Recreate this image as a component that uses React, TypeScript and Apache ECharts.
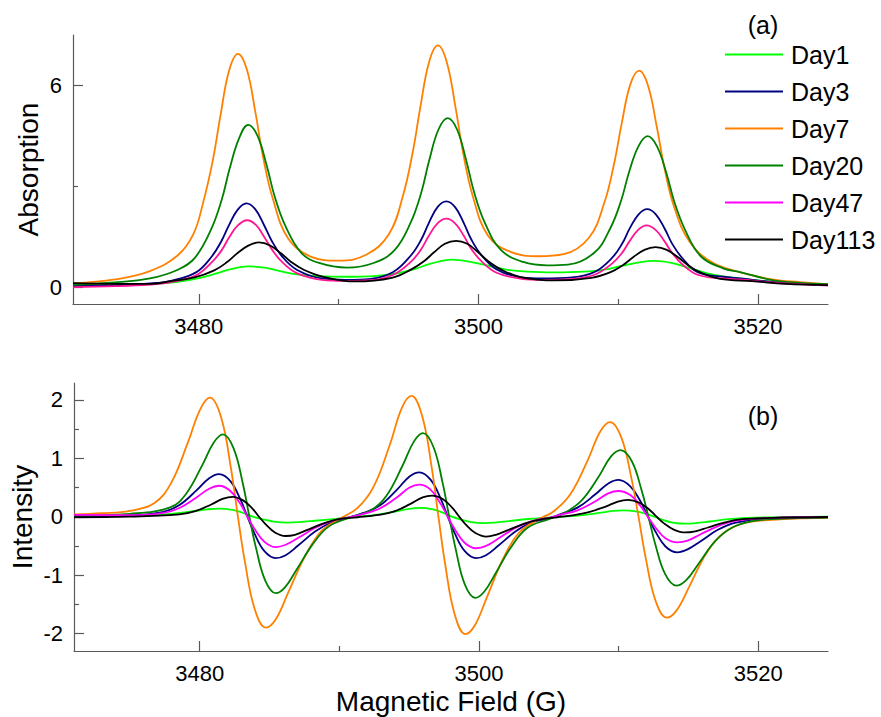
import React, { useEffect, useRef } from "react";
import * as echarts from "echarts";

const seriesNames = ["Day1", "Day3", "Day7", "Day20", "Day47", "Day113"];
const derivColors = ["#00ff00", "#000080", "#ff8000", "#008000", "#ff00ff", "#000000"];
const absColors = ["#00ff00", "#000080", "#ff8000", "#008000", "#ff1493", "#000000"];

const xMajorTicks = [3480, 3500, 3520];
const xMinorTicks = [3490, 3510];
const absMajorTicks = [0, 6];
const absMinorTicks = [3];
const derivMajorTicks = [-2, -1, 0, 1, 2];
const derivMinorTicks = [-1.5, -0.5, 0.5, 1.5];

// (a) absorption
const absDay1: [number, number][] = [[3471,0.04],[3474,0.06],[3476.5,0.09],[3478.5,0.16],[3480,0.27],[3481.2,0.40],[3482.3,0.54],[3483.5,0.62],[3484.7,0.58],[3485.8,0.48],[3487,0.38],[3488.5,0.33],[3490.5,0.31],[3492.5,0.33],[3494,0.40],[3495.3,0.52],[3496.6,0.70],[3498.1,0.82],[3499.6,0.74],[3500.8,0.63],[3502,0.52],[3503.5,0.46],[3505.5,0.44],[3507.5,0.46],[3509,0.52],[3510.3,0.64],[3511.5,0.74],[3512.6,0.78],[3513.8,0.72],[3515,0.58],[3516.3,0.42],[3517.5,0.32],[3518.7,0.26],[3521,0.16],[3525,0.07]];
const absDay3: [number, number][] = [[3471,0.03],[3474,0.06],[3476.5,0.11],[3478,0.19],[3479.8,0.44],[3480.88,0.89],[3481.6,1.36],[3482.14,1.83],[3482.77,2.30],[3483.4,2.49],[3484.03,2.32],[3484.66,1.85],[3485.2,1.39],[3485.92,0.93],[3487,0.52],[3488.8,0.26],[3490.5,0.22],[3492.3,0.25],[3493.9,0.45],[3495.18,0.95],[3495.9,1.41],[3496.44,1.90],[3497.07,2.38],[3497.7,2.55],[3498.33,2.38],[3498.96,1.90],[3499.5,1.41],[3500.22,0.95],[3501.3,0.53],[3503.1,0.29],[3504.6,0.26],[3506.7,0.29],[3508.3,0.45],[3509.55,0.87],[3510.27,1.29],[3510.81,1.74],[3511.44,2.16],[3512.07,2.32],[3512.7,2.16],[3513.33,1.73],[3513.87,1.28],[3514.59,0.86],[3515.67,0.45],[3517.5,0.31],[3518.7,0.26],[3521,0.16],[3523,0.10],[3525,0.06]];
const absDay7: [number, number][] = [[3471,0.11],[3474,0.23],[3476.5,0.48],[3478.5,0.95],[3479.6,1.57],[3480.3,2.50],[3481,3.77],[3481.55,5.11],[3482.17,6.45],[3482.8,6.94],[3483.43,6.48],[3484.05,5.19],[3484.6,3.86],[3485.3,2.62],[3486.4,1.44],[3488,0.91],[3490,0.79],[3492,0.97],[3493.6,1.58],[3494.6,2.72],[3495.3,4.02],[3495.85,5.37],[3496.47,6.70],[3497.1,7.19],[3497.73,6.70],[3498.35,5.37],[3498.9,4.00],[3499.6,2.70],[3500.7,1.52],[3502.3,1.05],[3504.3,0.92],[3506.1,0.98],[3507.9,1.47],[3509,2.51],[3509.7,3.67],[3510.25,4.88],[3510.87,6.04],[3511.5,6.44],[3512.13,5.99],[3512.75,4.78],[3513.3,3.55],[3514,2.38],[3515.1,1.35],[3516.7,0.74],[3518.7,0.45],[3521,0.23],[3523,0.15],[3525,0.09]];
const absDay20: [number, number][] = [[3471,0.08],[3474,0.14],[3476.5,0.26],[3478.5,0.52],[3479.73,0.88],[3480.87,1.71],[3481.63,2.59],[3482.2,3.52],[3482.87,4.42],[3483.53,4.83],[3484.2,4.50],[3484.86,3.61],[3485.43,2.69],[3486.19,1.82],[3487.33,1.02],[3488.6,0.72],[3490.6,0.58],[3492.5,0.72],[3494,1.10],[3495.14,1.91],[3495.9,2.80],[3496.47,3.76],[3497.14,4.69],[3497.8,5.03],[3498.47,4.69],[3499.13,3.76],[3499.7,2.81],[3500.46,1.91],[3501.6,1.11],[3503.2,0.75],[3504.9,0.65],[3506.4,0.67],[3508.3,1.03],[3509.44,1.76],[3510.2,2.57],[3510.77,3.42],[3511.44,4.19],[3512.1,4.49],[3512.77,4.19],[3513.43,3.41],[3514,2.55],[3514.76,1.72],[3515.9,0.92],[3517.5,0.56],[3518.7,0.45],[3521,0.21],[3523,0.13],[3525,0.09]];
const absDay47: [number, number][] = [[3471,0.0],[3474,0.03],[3476.5,0.08],[3478,0.15],[3479.8,0.35],[3480.88,0.72],[3481.6,1.08],[3482.14,1.46],[3482.77,1.83],[3483.45,1.99],[3484.08,1.85],[3484.7,1.48],[3485.25,1.11],[3485.95,0.75],[3487,0.42],[3488.8,0.22],[3490.5,0.19],[3492.3,0.21],[3493.9,0.37],[3495.18,0.76],[3495.9,1.13],[3496.44,1.52],[3497.07,1.90],[3497.7,2.04],[3498.33,1.90],[3498.96,1.52],[3499.5,1.13],[3500.22,0.77],[3501.3,0.43],[3503.1,0.25],[3504.6,0.22],[3506.7,0.25],[3508.3,0.37],[3509.55,0.70],[3510.27,1.02],[3510.81,1.37],[3511.44,1.71],[3512.02,1.84],[3512.65,1.71],[3513.3,1.37],[3513.85,1.02],[3514.55,0.69],[3515.67,0.37],[3517.5,0.26],[3518.7,0.23],[3521,0.14],[3523,0.09],[3525,0.05]];
const absDay113: [number, number][] = [[3471,0.12],[3474,0.10],[3476.5,0.10],[3478,0.18],[3479.7,0.29],[3481.1,0.50],[3482,0.74],[3482.7,0.99],[3483.5,1.23],[3484.3,1.33],[3485.1,1.24],[3485.9,1.00],[3486.6,0.75],[3487.5,0.52],[3488.9,0.31],[3491.2,0.17],[3493.8,0.28],[3495.2,0.53],[3496.1,0.77],[3496.8,1.03],[3497.6,1.29],[3498.4,1.38],[3499.2,1.29],[3500,1.03],[3500.7,0.77],[3501.6,0.53],[3503,0.30],[3505.5,0.20],[3508.07,0.28],[3509.45,0.45],[3510.37,0.67],[3511.06,0.89],[3511.87,1.11],[3512.67,1.19],[3513.47,1.11],[3514.27,0.89],[3514.97,0.66],[3515.87,0.44],[3517.27,0.25],[3519.57,0.18],[3522,0.10],[3525,0.06]];

// (b) first-derivative spectra
const derivDay1: [number, number][] = [[3471,0.01],[3474,0.02],[3476.48,0.03],[3477.95,0.05],[3479.42,0.09],[3480.52,0.126],[3481.38,0.14],[3482.36,0.116],[3483.22,0.057],[3483.83,0],[3484.44,-0.04],[3485.3,-0.083],[3486.28,-0.10],[3487.14,-0.092],[3488.24,-0.069],[3489.71,-0.036],[3491.2,0.0],[3492.62,0.032],[3493.98,0.088],[3495.0,0.135],[3495.8,0.15],[3496.71,0.125],[3497.5,0.061],[3498.07,0],[3498.64,-0.045],[3499.43,-0.091],[3500.34,-0.11],[3501.13,-0.102],[3502.16,-0.075],[3503.52,-0.039],[3504.88,-0.017],[3505.96,0.0],[3507.28,0.024],[3508.6,0.064],[3509.59,0.099],[3510.36,0.11],[3511.24,0.091],[3512.01,0.045],[3512.56,0],[3513.11,-0.049],[3513.88,-0.10],[3514.76,-0.12],[3515.53,-0.111],[3516.54,-0.082],[3517.88,-0.043],[3519.2,-0.019],[3521,-0.01],[3525,0.0]];
const derivDay3: [number, number][] = [[3471,0.01],[3475,0.025],[3477.33,0.08],[3478.55,0.20],[3479.77,0.45],[3480.68,0.66],[3481.39,0.73],[3482.2,0.61],[3482.91,0.30],[3483.42,0],[3483.93,-0.29],[3484.64,-0.59],[3485.45,-0.71],[3486.16,-0.66],[3487.07,-0.49],[3488.29,-0.25],[3489.51,-0.09],[3490.6,-0.02],[3491.68,0.06],[3492.9,0.19],[3494.12,0.46],[3495.03,0.69],[3495.74,0.76],[3496.55,0.63],[3497.26,0.31],[3497.77,0],[3498.28,-0.29],[3498.99,-0.59],[3499.8,-0.71],[3500.51,-0.66],[3501.42,-0.49],[3502.64,-0.25],[3503.86,-0.09],[3505.0,-0.03],[3505.8,0.04],[3507.06,0.155],[3508.32,0.38],[3509.27,0.57],[3510.0,0.63],[3510.84,0.52],[3511.58,0.26],[3512.1,0],[3512.63,-0.25],[3513.36,-0.51],[3514.2,-0.61],[3514.94,-0.56],[3515.88,-0.42],[3517.14,-0.22],[3518.4,-0.10],[3521,-0.025],[3525,-0.01]];
const derivDay7: [number, number][] = [[3471,0.04],[3473,0.06],[3475,0.10],[3476.74,0.23],[3477.94,0.57],[3479.14,1.26],[3480.04,1.84],[3480.74,2.04],[3481.54,1.70],[3482.24,0.83],[3482.74,0],[3483.24,-0.77],[3483.94,-1.58],[3484.74,-1.90],[3485.44,-1.76],[3486.34,-1.30],[3487.54,-0.68],[3488.74,-0.24],[3490,-0.04],[3491.31,0.15],[3492.47,0.52],[3493.63,1.24],[3494.49,1.87],[3495.17,2.07],[3495.94,1.72],[3496.62,0.84],[3497.1,0],[3497.58,-0.81],[3498.26,-1.67],[3499.03,-2.01],[3499.71,-1.86],[3500.57,-1.38],[3501.73,-0.72],[3502.89,-0.27],[3504.3,-0.04],[3505.34,0.09],[3506.56,0.39],[3507.78,0.96],[3508.69,1.46],[3509.4,1.62],[3510.21,1.35],[3510.92,0.66],[3511.43,0],[3511.94,-0.70],[3512.65,-1.44],[3513.46,-1.73],[3514.17,-1.60],[3515.08,-1.19],[3516.3,-0.62],[3517.52,-0.28],[3519,-0.11],[3521,-0.055],[3523,-0.03],[3525,-0.02]];
const derivDay20: [number, number][] = [[3471,0.02],[3475,0.05],[3477.89,0.16],[3479.02,0.39],[3480.16,0.87],[3481.01,1.27],[3481.67,1.41],[3482.43,1.17],[3483.09,0.57],[3483.56,0],[3484.03,-0.53],[3484.69,-1.09],[3485.45,-1.31],[3486.11,-1.21],[3486.96,-0.90],[3488.1,-0.47],[3489.23,-0.17],[3490.7,-0.02],[3492.26,0.11],[3493.38,0.36],[3494.5,0.86],[3495.35,1.29],[3496.0,1.43],[3496.75,1.19],[3497.4,0.58],[3497.87,0],[3498.34,-0.56],[3498.99,-1.16],[3499.74,-1.39],[3500.39,-1.28],[3501.24,-0.95],[3502.36,-0.50],[3503.48,-0.19],[3505,-0.04],[3506.17,0.07],[3507.36,0.28],[3508.56,0.68],[3509.45,1.03],[3510.15,1.14],[3510.95,0.95],[3511.64,0.46],[3512.14,0],[3512.64,-0.48],[3513.33,-0.98],[3514.13,-1.18],[3514.83,-1.09],[3515.72,-0.81],[3516.92,-0.42],[3518.11,-0.19],[3519.5,-0.08],[3521,-0.04],[3525,-0.015]];
const derivDay47: [number, number][] = [[3471,0.03],[3475,0.025],[3477.33,0.06],[3478.55,0.15],[3479.77,0.33],[3480.68,0.48],[3481.39,0.53],[3482.2,0.44],[3482.91,0.22],[3483.42,0],[3483.93,-0.21],[3484.64,-0.43],[3485.45,-0.52],[3486.16,-0.48],[3487.07,-0.36],[3488.29,-0.19],[3489.51,-0.07],[3490.6,-0.015],[3491.68,0.045],[3492.9,0.14],[3494.12,0.33],[3495.03,0.50],[3495.74,0.55],[3496.55,0.46],[3497.26,0.22],[3497.77,0],[3498.28,-0.22],[3498.99,-0.45],[3499.8,-0.54],[3500.51,-0.50],[3501.42,-0.37],[3502.64,-0.19],[3503.86,-0.07],[3505.0,-0.02],[3505.8,0.03],[3507.06,0.11],[3508.32,0.26],[3509.27,0.40],[3510.0,0.44],[3510.84,0.37],[3511.58,0.18],[3512.1,0],[3512.63,-0.18],[3513.36,-0.37],[3514.2,-0.44],[3514.94,-0.41],[3515.88,-0.30],[3517.14,-0.16],[3518.4,-0.07],[3521,-0.02],[3525,-0.005]];
const derivDay113: [number, number][] = [[3471,-0.01],[3475,0.0],[3478.55,0.04],[3479.69,0.095],[3480.83,0.21],[3481.69,0.31],[3482.35,0.34],[3483.11,0.28],[3483.78,0.14],[3484.25,0],[3484.73,-0.13],[3485.39,-0.27],[3486.15,-0.33],[3486.82,-0.31],[3487.67,-0.23],[3488.81,-0.12],[3489.95,-0.04],[3491.3,-0.01],[3492.77,0.03],[3493.93,0.09],[3495.1,0.22],[3495.97,0.33],[3496.65,0.36],[3497.43,0.30],[3498.1,0.15],[3498.59,0],[3499.08,-0.14],[3499.75,-0.28],[3500.53,-0.34],[3501.21,-0.31],[3502.08,-0.23],[3503.25,-0.12],[3504.41,-0.046],[3505.6,-0.01],[3506.57,0.02],[3507.8,0.073],[3509.03,0.17],[3509.95,0.26],[3510.67,0.29],[3511.49,0.24],[3512.21,0.12],[3512.72,0],[3513.23,-0.11],[3513.95,-0.22],[3514.77,-0.27],[3515.49,-0.25],[3516.41,-0.185],[3517.64,-0.096],[3518.87,-0.043],[3521,-0.02],[3525,-0.005]];

const absData = [absDay1, absDay3, absDay7, absDay20, absDay47, absDay113];
const derivData = [derivDay1, derivDay3, derivDay7, derivDay20, derivDay47, derivDay113];

const FONT = "'Liberation Sans', Arial, sans-serif";
const AXIS_COLOR = "#5a5a5a";
const plain = (v: number) => String(v);

function mainX(gridIndex: number, withName: boolean) {
  return {
    type: "value",
    gridIndex,
    position: "bottom",
    min: 3471,
    max: 3525,
    name: withName ? "Magnetic Field (G)" : "",
    nameLocation: "middle",
    nameGap: 36,
    nameMoveOverlap: false,
    nameTextStyle: { fontSize: 28, fontFamily: FONT, color: "#000" },
    axisLine: { show: true, onZero: false, lineStyle: { color: AXIS_COLOR, width: 1.2 } },
    axisTick: { show: true, inside: true, length: 10, customValues: xMajorTicks, lineStyle: { color: AXIS_COLOR, width: 1.2 } },
    axisLabel: { show: true, customValues: xMajorTicks, formatter: plain, fontSize: 22, fontFamily: FONT, color: "#000", margin: 11 },
    splitLine: { show: false },
  };
}
function minorX(gridIndex: number) {
  return {
    type: "value",
    gridIndex,
    position: "bottom",
    min: 3471,
    max: 3525,
    axisLine: { show: false, onZero: false },
    axisTick: { show: true, inside: true, length: 5, customValues: xMinorTicks, lineStyle: { color: AXIS_COLOR, width: 1.2 } },
    axisLabel: { show: false },
    splitLine: { show: false },
  };
}
function mainY(gridIndex: number, min: number, max: number, ticks: number[], name: string, gap: number) {
  return {
    type: "value",
    gridIndex,
    position: "left",
    min,
    max,
    name,
    nameLocation: "middle",
    nameGap: gap,
    nameMoveOverlap: false,
    nameTextStyle: { fontSize: 28, fontFamily: FONT, color: "#000" },
    axisLine: { show: true, onZero: false, lineStyle: { color: AXIS_COLOR, width: 1.2 } },
    axisTick: { show: true, inside: true, length: 10, customValues: ticks, lineStyle: { color: AXIS_COLOR, width: 1.2 } },
    axisLabel: { show: true, customValues: ticks, formatter: plain, fontSize: 22, fontFamily: FONT, color: "#000", margin: 11 },
    splitLine: { show: false },
  };
}
function minorY(gridIndex: number, min: number, max: number, ticks: number[]) {
  return {
    type: "value",
    gridIndex,
    position: "left",
    min,
    max,
    axisLine: { show: false, onZero: false },
    axisTick: { show: true, inside: true, length: 5, customValues: ticks, lineStyle: { color: AXIS_COLOR, width: 1.2 } },
    axisLabel: { show: false },
    splitLine: { show: false },
  };
}

export default function App() {
  const ref = useRef<HTMLDivElement>(null);
  useEffect(() => {
    if (!ref.current) return;
    const chart = echarts.init(ref.current, null, { renderer: "svg" });
    const series: any[] = [];
    seriesNames.forEach((name, i) => {
      series.push({
        name,
        type: "line",
        xAxisIndex: 2,
        yAxisIndex: 2,
        data: derivData[i],
        symbol: "none",
        showSymbol: false,
        smooth: 0.4,
        color: derivColors[i],
        lineStyle: { color: derivColors[i], width: 1.8 },
      });
    });
    seriesNames.forEach((name, i) => {
      series.push({
        name,
        type: "line",
        xAxisIndex: 0,
        yAxisIndex: 0,
        data: absData[i],
        symbol: "none",
        showSymbol: false,
        smooth: 0.4,
        color: absColors[i],
        lineStyle: { color: absColors[i], width: 1.8 },
      });
    });
    chart.setOption({
      animation: false,
      backgroundColor: "#ffffff",
      textStyle: { fontFamily: FONT },
      grid: [
        { left: 73, top: 35, width: 755, height: 269 },
        { left: 73, top: 383, width: 755, height: 268 },
      ],
      xAxis: [mainX(0, false), minorX(0), mainX(1, true), minorX(1)],
      yAxis: [
        mainY(0, -0.5, 7.5, absMajorTicks, "Absorption", 31),
        minorY(0, -0.5, 7.5, absMinorTicks),
        mainY(1, -2.3, 2.29, derivMajorTicks, "Intensity", 38),
        minorY(1, -2.3, 2.29, derivMinorTicks),
      ],
      legend: {
        data: seriesNames.map((n) => ({ name: n, icon: "rect" })),
        orient: "vertical",
        left: 725,
        top: 42,
        padding: 0,
        itemWidth: 58,
        itemHeight: 2.2,
        itemGap: 12,
        selectedMode: false,
        textStyle: { fontSize: 25, fontFamily: FONT, color: "#000", lineHeight: 20, padding: [0, 0, 0, 3] },
      },
      graphic: [
        {
          type: "text",
          x: 763,
          y: 25,
          style: { text: "(a)", fontSize: 25, fontFamily: FONT, fill: "#000", textAlign: "center", textVerticalAlign: "middle", align: "center", verticalAlign: "middle" },
        },
        {
          type: "text",
          x: 763,
          y: 416,
          style: { text: "(b)", fontSize: 25, fontFamily: FONT, fill: "#000", textAlign: "center", textVerticalAlign: "middle", align: "center", verticalAlign: "middle" },
        },
      ],
      series,
    });
    return () => chart.dispose();
  }, []);
  return <div ref={ref} style={{ position: "absolute", left: 0, top: 0, width: 881, height: 717 }} />;
}
